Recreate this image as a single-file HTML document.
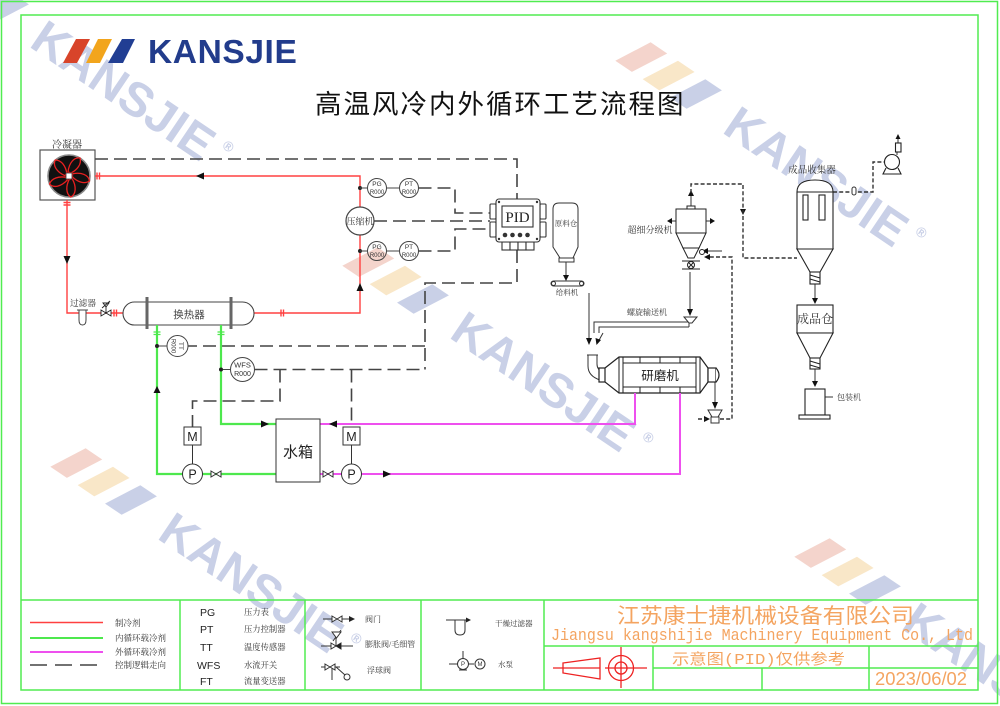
<!DOCTYPE html>
<html><head><meta charset="utf-8"><style>
html,body{margin:0;padding:0;background:#fff;width:1000px;height:706px;overflow:hidden;}
#wrap{position:relative;width:1000px;height:706px;overflow:hidden;}
svg{display:block;overflow:hidden;}
.s{font-family:"Liberation Serif","Noto Serif CJK SC",serif;fill:#333;}
.h{font-family:"Liberation Sans","Noto Sans CJK SC",sans-serif;fill:#222;}
.wm{font-family:"Liberation Sans",sans-serif;font-weight:bold;fill:#c9d0e7;}
</style></head><body><div id="wrap">
<svg width="1000" height="706" viewBox="0 0 1000 706" xmlns="http://www.w3.org/2000/svg">
<defs><clipPath id="pg"><rect x="0" y="0" width="1000" height="706"/></clipPath></defs>
<rect width="1000" height="706" fill="#fff"/>

<g clip-path="url(#pg)">
<g transform="translate(28,46) rotate(34)">
<polygon points="-127.5,0 -107.5,0 -88.5,-35 -108.5,-35" fill="#f4d4cc"/>
<polygon points="-94.5,0 -74.5,0 -55.5,-35 -75.5,-35" fill="#f9e7c8"/>
<polygon points="-61.5,0 -41.5,0 -22.5,-35 -42.5,-35" fill="#c9d0e7"/>
<text class="wm" x="0" y="0" font-size="48">KANSJIE</text>
<text class="wm" x="217" y="-24" font-size="14" font-weight="normal">®</text>
</g>
<g transform="translate(721,132) rotate(34)">
<polygon points="-127.5,0 -107.5,0 -88.5,-35 -108.5,-35" fill="#f4d4cc"/>
<polygon points="-94.5,0 -74.5,0 -55.5,-35 -75.5,-35" fill="#f9e7c8"/>
<polygon points="-61.5,0 -41.5,0 -22.5,-35 -42.5,-35" fill="#c9d0e7"/>
<text class="wm" x="0" y="0" font-size="48">KANSJIE</text>
<text class="wm" x="217" y="-24" font-size="14" font-weight="normal">®</text>
</g>
<g transform="translate(448,337) rotate(34)">
<polygon points="-127.5,0 -107.5,0 -88.5,-35 -108.5,-35" fill="#f4d4cc"/>
<polygon points="-94.5,0 -74.5,0 -55.5,-35 -75.5,-35" fill="#f9e7c8"/>
<polygon points="-61.5,0 -41.5,0 -22.5,-35 -42.5,-35" fill="#c9d0e7"/>
<text class="wm" x="0" y="0" font-size="48">KANSJIE</text>
<text class="wm" x="217" y="-24" font-size="14" font-weight="normal">®</text>
</g>
<g transform="translate(156,538) rotate(34)">
<polygon points="-127.5,0 -107.5,0 -88.5,-35 -108.5,-35" fill="#f4d4cc"/>
<polygon points="-94.5,0 -74.5,0 -55.5,-35 -75.5,-35" fill="#f9e7c8"/>
<polygon points="-61.5,0 -41.5,0 -22.5,-35 -42.5,-35" fill="#c9d0e7"/>
<text class="wm" x="0" y="0" font-size="48">KANSJIE</text>
<text class="wm" x="217" y="-24" font-size="14" font-weight="normal">®</text>
</g>
<g transform="translate(900,628) rotate(34)">
<polygon points="-127.5,0 -107.5,0 -88.5,-35 -108.5,-35" fill="#f4d4cc"/>
<polygon points="-94.5,0 -74.5,0 -55.5,-35 -75.5,-35" fill="#f9e7c8"/>
<polygon points="-61.5,0 -41.5,0 -22.5,-35 -42.5,-35" fill="#c9d0e7"/>
<text class="wm" x="0" y="0" font-size="48">KANS</text>
</g>
</g>

<!-- borders -->
<g fill="none" stroke="#50ec50" stroke-width="1.5">
<rect x="1.5" y="1.5" width="996" height="702"/>
<rect x="21" y="15" width="957" height="675"/>
<line x1="21" y1="600" x2="978" y2="600"/>
<line x1="180" y1="600" x2="180" y2="690"/>
<line x1="305" y1="600" x2="305" y2="690"/>
<line x1="421" y1="600" x2="421" y2="690"/>
<line x1="544" y1="600" x2="544" y2="690"/>
<line x1="544" y1="646" x2="978" y2="646"/>
<line x1="653" y1="668" x2="978" y2="668"/>
<line x1="653" y1="646" x2="653" y2="690"/>
<line x1="762" y1="668" x2="762" y2="690"/>
<line x1="869" y1="646" x2="869" y2="690"/>
</g>

<!-- logo -->
<polygon points="63,63 77,63 90,39 76,39" fill="#d8442a"/>
<polygon points="86,63 100,63 112,39 98,39" fill="#f2a51c"/>
<polygon points="108,63 123,63 135,39 122,39" fill="#213e93"/>
<text x="148" y="63" font-family="Liberation Sans" font-weight="bold" font-size="33.5" letter-spacing="0.6" fill="#223c8c">KANSJIE</text>

<!-- title -->
<text x="315" y="113.5" class="h" font-size="26.5" letter-spacing="2" style="fill:#111">高温风冷内外循环工艺流程图</text>

<!-- condenser -->
<text x="67" y="148" text-anchor="middle" class="s" font-size="10">冷凝器</text>
<rect x="40" y="150" width="55" height="50" fill="#fff" stroke="#555" stroke-width="1.2"/>
<circle cx="69" cy="176" r="21" fill="#111" stroke="#888" stroke-width="1.6"/>
<g transform="translate(69,176)" fill="none" stroke="#e82020" stroke-width="1.3">
<path d="M2,-3 C8,-6 13,-12 11,-18 C5,-19 0,-13 -1,-4 Z"/>
<path d="M2,-3 C8,-6 13,-12 11,-18 C5,-19 0,-13 -1,-4 Z" transform="rotate(72)"/>
<path d="M2,-3 C8,-6 13,-12 11,-18 C5,-19 0,-13 -1,-4 Z" transform="rotate(144)"/>
<path d="M2,-3 C8,-6 13,-12 11,-18 C5,-19 0,-13 -1,-4 Z" transform="rotate(216)"/>
<path d="M2,-3 C8,-6 13,-12 11,-18 C5,-19 0,-13 -1,-4 Z" transform="rotate(288)"/>
</g>
<rect x="66" y="173" width="6" height="6" fill="#fff" stroke="#333" stroke-width="0.8"/>

<!-- control dashed lines -->
<g fill="none" stroke="#444" stroke-width="1.6" stroke-dasharray="13,6">
<path d="M95,159 H517 V199"/>
<path d="M418.5,188 H455 V213 H490"/>
<path d="M374,221 H490"/>
<path d="M418.5,251 H455 V229 H490"/>
<path d="M517,250 V283 H425 V369.5"/>
<path d="M425,346 H188"/>
<path d="M254.5,369.5 H425"/>
<path d="M280,369.5 V401 H192.5 V427"/>
<path d="M351.5,369.5 V427"/>
</g>

<!-- red refrigerant -->
<g fill="none" stroke="#ff4040" stroke-width="1.4">
<path d="M95,176 H360 V313 H254"/>
<path d="M67,200 V313 H123"/>
<path d="M97,172.5 V179.5 M99.5,172.5 V179.5 M281,309.5 V316.5 M283.5,309.5 V316.5 M63.5,202.5 H70.5 M63.5,205 H70.5 M114,309.5 V316.5 M116.5,309.5 V316.5"/>
</g>
<g fill="#111">
<polygon points="196,176 204,172.5 204,179.5"/>
<polygon points="360,283 356.5,291 363.5,291"/>
<polygon points="67,264 63.5,256 70.5,256"/>
</g>
<text x="83" y="306" text-anchor="middle" class="s" font-size="8.7">过滤器</text>
<path d="M77,310 H88 M79,310 V320 Q79,325 82.5,325 Q86,325 86,320 V310" fill="#fff" stroke="#444"/>
<g stroke="#222" stroke-width="0.9" fill="#fff">
<path d="M101,310 L111,316 L111,310 L101,316 Z"/>
<path d="M106,313 V306" fill="none"/>
<path d="M103,303 H109 L106,307 Z"/>
<path d="M102,308 L110,301" fill="none"/>
</g>

<!-- compressor + gauges -->
<circle cx="360" cy="221" r="14" fill="#fff" stroke="#444" stroke-width="1.2"/>
<text x="360" y="224.5" text-anchor="middle" class="s" font-size="9">压缩机</text>
<circle cx="360" cy="188" r="2" fill="#222"/>
<circle cx="360" cy="251" r="2" fill="#222"/>
<g stroke="#444" stroke-width="1" fill="none">
<path d="M360,188 H367.5 M386.5,188 H399.5 M360,251 H367.5 M386.5,251 H399.5"/>
<circle cx="377" cy="188" r="9.5"/><circle cx="409" cy="188" r="9.5"/>
<circle cx="377" cy="251" r="9.5"/><circle cx="409" cy="251" r="9.5"/>
</g>
<g font-family="Liberation Sans" fill="#333" text-anchor="middle">
<text x="377" y="186" font-size="6.5">PG</text><text x="377" y="194" font-size="6">R000</text>
<text x="409" y="186" font-size="6.5">PT</text><text x="409" y="194" font-size="6">R000</text>
<text x="377" y="249" font-size="6.5">PG</text><text x="377" y="257" font-size="6">R000</text>
<text x="409" y="249" font-size="6.5">PT</text><text x="409" y="257" font-size="6">R000</text>
</g>

<!-- PID -->
<g stroke="#333" stroke-width="1.1" fill="#fff">
<rect x="490" y="204" width="6" height="15" rx="1"/>
<rect x="490" y="222" width="6" height="15" rx="1"/>
<rect x="540" y="204" width="6" height="15" rx="1"/>
<rect x="540" y="222" width="6" height="15" rx="1"/>
<rect x="502" y="242" width="8" height="8"/>
<rect x="510" y="242" width="8" height="8"/>
<rect x="518" y="242" width="8" height="8"/>
<rect x="526" y="242" width="8" height="8"/>
<rect x="496" y="199" width="44" height="43" rx="3"/>
<rect x="502" y="206" width="31" height="21"/>
</g>
<g fill="#333">
<circle cx="499" cy="202" r="1.2"/><circle cx="537" cy="202" r="1.2"/>
<circle cx="499" cy="239" r="1.2"/><circle cx="537" cy="239" r="1.2"/>
<circle cx="505" cy="235" r="2.3"/><circle cx="512.5" cy="235" r="2.3"/>
<circle cx="520" cy="235" r="2.3"/><circle cx="527.5" cy="235" r="2.3"/>
</g>
<text x="517.5" y="222" text-anchor="middle" font-family="Liberation Serif" font-size="15" fill="#222">PID</text>

<!-- raw bin & feeder -->
<g stroke="#333" stroke-width="1" fill="#fff">
<path d="M553,247 V209 Q553,203 559,203 H572 Q578,203 578,209 V247 L573,258 H560 Z"/>
<rect x="559" y="258" width="15" height="4"/>
<rect x="551" y="281" width="33" height="5" rx="2.5"/>
<circle cx="553.5" cy="283.5" r="2"/><circle cx="581.5" cy="283.5" r="2"/>
</g>
<text x="566" y="226" text-anchor="middle" class="s" font-size="7.5">原料仓</text>
<text x="567" y="295" text-anchor="middle" class="s" font-size="7.5">给料机</text>

<!-- process solid lines -->
<g stroke="#333" stroke-width="1" fill="none">
<path d="M566,262 V277"/>
<path d="M589,293 V341"/>
<path d="M594,333 V322 H689 M599,333 V327 H689 M689,322 V327"/>
<path d="M603,333 L598,342"/>
<path d="M690,272 V312"/>
<path d="M587,355 H598 M588,355 V366 Q588,376 600,380 M597,355 V364 Q597,370 603,372"/>
<path d="M715,382 V405"/>
<path d="M691,206 V196"/>
<path d="M722,251 H706"/>
<path d="M676,221 H670 M706,221 H712"/>
<path d="M815,284 V300"/>
<path d="M815,369 V383"/>
<path d="M825,397 H833"/>
<path d="M898,143 V138"/>
<path d="M897,155 V152"/>
</g>
<polygon points="684,317 697,317 692,323 689,323" fill="#fff" stroke="#333"/>
<g fill="#111">
<polygon points="566,281 563,275 569,275"/>
<polygon points="589,345 586,338 592,338"/>
<polygon points="596.5,345 595.5,338 601,340"/>
<polygon points="690,316 687,309 693,309"/>
<polygon points="715,409 712,402 718,402"/>
<polygon points="691,190 688,196 694,196"/>
<polygon points="702,251 708,248 708,254"/>
<polygon points="667,221 672,218 672,224"/>
<polygon points="715,221 710,218 710,224"/>
<polygon points="743,215 740,209 746,209"/>
<polygon points="704,257 710,254 710,260"/>
<polygon points="710,419 704,416 704,422"/>
<polygon points="815,304 812,298 818,298"/>
<polygon points="815,387 812,381 818,381"/>
<polygon points="898,134 895.5,139 900.5,139"/>
</g>
<text x="647" y="315" text-anchor="middle" class="s" font-size="8">螺旋输送机</text>

<!-- mill -->
<g stroke="#222" stroke-width="1.2" fill="#fff">
<rect x="599" y="368" width="7" height="14"/>
<polygon points="605,368 619,357 700,357 708,368 708,382 700,393 619,393 605,382"/>
<rect x="708" y="368" width="8" height="14"/>
<path d="M716,368 Q722,375 716,382"/>
</g>
<g stroke="#222" stroke-width="1" fill="none">
<path d="M619,357 V393 M623,357 V393 M696,357 V393 M700,357 V393"/>
<path d="M623,363 H696 M623,387 H696"/>
<path d="M640,357 V363 M660,357 V363 M680,357 V363 M640,387 V393 M660,387 V393 M680,387 V393"/>
</g>
<text x="660" y="380" text-anchor="middle" class="h" font-size="12.5">研磨机</text>
<g stroke="#333" stroke-width="1" fill="#fff">
<polygon points="708,410 722,410 718,417 712,417"/>
<rect x="711" y="417" width="8" height="6"/>
</g>

<!-- fine dashed lines -->
<g fill="none" stroke="#333" stroke-width="1.4" stroke-dasharray="4,2.2">
<path d="M698,419 H706"/>
<path d="M720,419 H732 V257 H710"/>
<path d="M691,193 V184 H743 V258 H797"/>
<path d="M833,192 H873 V162 H884.5"/>
</g>
<rect x="852" y="187" width="4" height="8" rx="2" fill="#fff" stroke="#333"/>

<!-- classifier -->
<g stroke="#222" stroke-width="1" fill="#fff">
<rect x="687" y="206" width="8" height="3"/>
<rect x="676" y="209" width="30" height="24"/>
<polygon points="676,233 706,233 699,248 683,248"/>
<polygon points="683,248 699,248 694,258 688,258"/>
<circle cx="702" cy="252" r="2.5"/>
<circle cx="691" cy="265" r="3.5"/>
<path d="M682,261 H700 M682,269 H700 M688.5,262.5 L693.5,267.5 M693.5,262.5 L688.5,267.5" fill="none"/>
</g>
<text x="650" y="233" text-anchor="middle" class="s" font-size="9">超细分级机</text>

<!-- collector -->
<text x="812" y="173" text-anchor="middle" class="s" font-size="9.5">成品收集器</text>
<g stroke="#222" stroke-width="1.1" fill="#fff">
<path d="M797,249 V192 Q797,180 815,180 Q833,180 833,192 V249 Z"/>
<path d="M797,192 H833" fill="none"/>
<rect x="803" y="195" width="5" height="25"/>
<rect x="819" y="195" width="6" height="25"/>
<polygon points="797,249 833,249 820,272 810,272"/>
<rect x="810" y="272" width="10" height="12"/>
<path d="M810,275 L820,278 M810,279 L820,282" fill="none"/>
<rect x="797" y="305" width="36" height="28"/>
<polygon points="797,333 833,333 820,358 810,358"/>
<rect x="810" y="358" width="10" height="11"/>
<path d="M810,361 L820,364 M810,365 L820,368" fill="none"/>
<rect x="805" y="389" width="20" height="26"/>
<rect x="799" y="415" width="31" height="4"/>
</g>
<text x="815" y="323" text-anchor="middle" class="s" font-size="12">成品仓</text>
<text x="837" y="400" class="s" font-size="8">包装机</text>
<!-- vacuum pump -->
<g stroke="#222" stroke-width="1.1" fill="#fff">
<path d="M886,168 L883,174 H901 L898,168" fill="none"/>
<circle cx="892" cy="162" r="7.5"/>
<rect x="895.5" y="143" width="5.5" height="9"/>
</g>

<!-- heat exchanger -->
<rect x="123" y="302" width="131" height="23" rx="11.5" fill="#fff" stroke="#444" stroke-width="1.1"/>
<rect x="145.5" y="297" width="3" height="32" fill="#666"/>
<rect x="229.5" y="297" width="3" height="32" fill="#666"/>
<text x="189" y="318" text-anchor="middle" class="h" font-size="10.5" style="fill:#444">换热器</text>

<!-- green loop -->
<g fill="none" stroke="#4de84d" stroke-width="2.2">
<path d="M157,325 V474 H182.5"/>
<path d="M202.5,474 H276"/>
<path d="M221,325 V424 H276"/>
<path d="M153.5,332 H160.5 M153.5,334.5 H160.5 M217.5,332 H224.5 M217.5,334.5 H224.5" stroke-width="1.2"/>
</g>
<!-- magenta loop -->
<g fill="none" stroke="#ee50ee" stroke-width="2">
<path d="M320,424 H635 V393"/>
<path d="M361.5,474 H680 V393"/>
<path d="M320,474 H341.5"/>
</g>
<g fill="#111">
<polygon points="157,386 153.5,393 160.5,393"/>
<polygon points="269,424 261,420.5 261,427.5"/>
<polygon points="329,424 337,420.5 337,427.5"/>
<polygon points="391,474 383,470.5 383,477.5"/>
</g>

<!-- TT / WFS -->
<circle cx="157" cy="346" r="2" fill="#222"/>
<circle cx="221" cy="369.5" r="2" fill="#222"/>
<g stroke="#444" stroke-width="1" fill="#fff">
<path d="M159,346 H167 M223,369.5 H230.5" fill="none"/>
<circle cx="177.5" cy="346" r="10.5"/>
<circle cx="242.5" cy="369.5" r="12"/>
</g>
<g font-family="Liberation Sans" fill="#333" text-anchor="middle">
<g transform="translate(177.5,346) rotate(90)"><text x="0" y="-1.5" font-size="6.5">TT</text><text x="0" y="6" font-size="6">R000</text></g>
<text x="242.5" y="367.5" font-size="7.5">WFS</text><text x="242.5" y="376" font-size="7">R000</text>
</g>

<!-- pumps, motors, tank -->
<g stroke="#333" stroke-width="1" fill="#fff">
<path d="M192.5,445 V464 M351.5,445 V464" fill="none"/>
<rect x="184" y="427" width="17" height="18"/>
<rect x="343" y="427" width="17" height="18"/>
<circle cx="192.5" cy="474" r="10"/>
<circle cx="351.5" cy="474" r="10"/>
<rect x="276" y="419" width="44" height="63"/>
<path d="M211,471 L221,477 L221,471 L211,477 Z"/>
<path d="M323,471 L333,477 L333,471 L323,477 Z"/>
</g>
<g font-family="Liberation Sans" fill="#222" text-anchor="middle" font-size="12.5">
<text x="192.5" y="441">M</text><text x="351.5" y="441">M</text>
<text x="192.5" y="478.5">P</text><text x="351.5" y="478.5">P</text>
</g>
<text x="298" y="457" text-anchor="middle" class="h" font-size="15">水箱</text>

<!-- legend col 1 -->
<line x1="30" y1="622.5" x2="103" y2="622.5" stroke="#ff4040" stroke-width="1.5"/>
<line x1="30" y1="638" x2="103" y2="638" stroke="#4de84d" stroke-width="2"/>
<line x1="30" y1="652" x2="103" y2="652" stroke="#ee50ee" stroke-width="2"/>
<line x1="30" y1="665" x2="103" y2="665" stroke="#444" stroke-width="1.6" stroke-dasharray="17,8"/>
<g class="s" font-size="8.5">
<text x="115" y="626">制冷剂</text>
<text x="115" y="641">内循环载冷剂</text>
<text x="115" y="655">外循环载冷剂</text>
<text x="115" y="668">控制逻辑走向</text>
</g>
<!-- legend col 2 -->
<g font-family="Liberation Sans" font-size="10.5" fill="#222">
<text x="200" y="616">PG</text>
<text x="200" y="633">PT</text>
<text x="200" y="651">TT</text>
<text x="197" y="669">WFS</text>
<text x="200" y="685">FT</text>
</g>
<g class="s" font-size="8.3">
<text x="244" y="615">压力表</text>
<text x="244" y="632">压力控制器</text>
<text x="244" y="650">温度传感器</text>
<text x="244" y="668">水流开关</text>
<text x="244" y="684">流量变送器</text>
</g>
<!-- legend col 3 -->
<g stroke="#333" stroke-width="1" fill="#fff">
<path d="M323,619 H351 M321,646 H353 M321,667 H340 M332,667 V680 M336,667 L345,675 M336,646 V637 M333,641 L341,630" fill="none"/>
<path d="M332,616 L342,622 L342,616 L332,622 Z"/>
<path d="M331,643 L341,649 L341,643 L331,649 Z"/>
<path d="M332,632 H341 L336.5,638 Z"/>
<path d="M325,664 L335,670 L335,664 L325,670 Z"/>
<circle cx="347" cy="677" r="3"/>
</g>
<polygon points="355,619 349,616 349,622" fill="#222"/>
<polygon points="341,643 336,646 341,649" fill="#222"/>
<g class="s" font-size="8">
<text x="365" y="622">阀门</text>
<text x="365" y="647">膨胀阀/毛细管</text>
<text x="367" y="673">浮球阀</text>
</g>
<!-- legend col 4 -->
<g stroke="#333" stroke-width="1" fill="#fff">
<path d="M446,620 H467 M455,620 V630 Q455,635 460,635 Q465,635 465,630 V620" fill="none"/>
<path d="M449,664 H474 M463,658.5 V651 M459,670 H467" fill="none"/>
<circle cx="463" cy="664" r="5.5"/>
<circle cx="480" cy="664" r="5"/>
</g>
<polygon points="471,620 466,617.5 466,622.5" fill="#222"/>
<g font-family="Liberation Sans" font-size="6" fill="#333" text-anchor="middle">
<text x="463" y="666">P</text><text x="480" y="666">M</text>
</g>
<g class="s" font-size="7.5">
<text x="495" y="626">干燥过滤器</text>
<text x="498" y="667">水泵</text>
</g>

<!-- company block -->
<text x="617" y="623" class="h" font-size="21" textLength="297" lengthAdjust="spacingAndGlyphs" style="fill:#f4a460">江苏康士捷机械设备有限公司</text>
<text x="551" y="640" font-family="Liberation Mono" font-size="17" textLength="422" lengthAdjust="spacingAndGlyphs" fill="#f4a460">Jiangsu kangshijie Machinery Equipment Co., Ltd</text>
<text x="672" y="664" font-family="Liberation Mono, Noto Sans CJK SC, monospace" font-size="15" textLength="173" lengthAdjust="spacingAndGlyphs" fill="#f4a460">示意图(PID)仅供参考</text>
<text x="875" y="685" font-family="Liberation Sans" font-size="18" textLength="92" lengthAdjust="spacingAndGlyphs" fill="#f4a460">2023/06/02</text>
<g stroke="#ee2222" stroke-width="1.3" fill="none">
<polygon points="563,663 600,658 600,679 563,673"/>
<line x1="553" y1="668" x2="600" y2="668"/>
<circle cx="621" cy="668" r="12.5"/>
<circle cx="621" cy="668" r="6"/>
<line x1="605" y1="668" x2="647" y2="668"/>
<line x1="621" y1="647" x2="621" y2="688"/>
</g>
</svg>
</div></body></html>
